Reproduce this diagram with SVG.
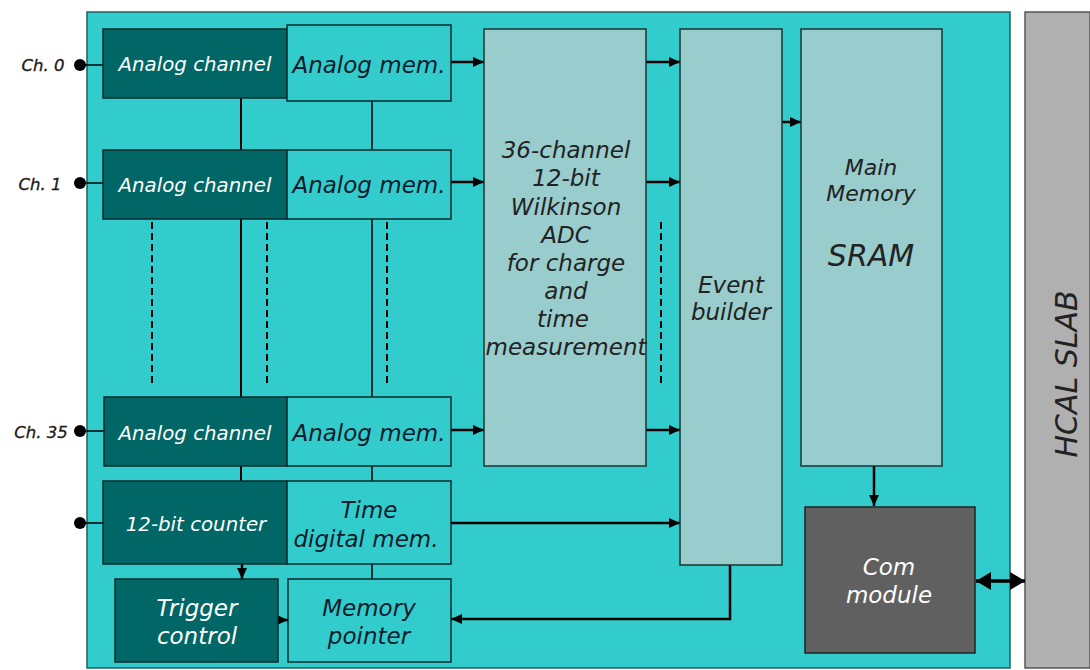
<svg xmlns="http://www.w3.org/2000/svg" width="1090" height="670" viewBox="0 0 1090 670">
<defs>
<marker id="ah" markerUnits="userSpaceOnUse" markerWidth="12" markerHeight="12" refX="11" refY="6" orient="auto-start-reverse"><path d="M0,1 L11,6 L0,11 z" fill="#000"/></marker>
<marker id="ahb" markerUnits="userSpaceOnUse" markerWidth="16" markerHeight="18" refX="15" refY="9" orient="auto-start-reverse"><path d="M0,0 L15,9 L0,18 z" fill="#000"/></marker>
<style>
text{font-family:"DejaVu Sans","Verdana",sans-serif;font-style:italic;text-anchor:middle;dominant-baseline:central}
.dk{fill:#006666;stroke:#0d2a2a;stroke-width:1.5}
.lt{fill:#33CCCC;stroke:#0d2a2a;stroke-width:1.5}
.gr{fill:#99CCCC;stroke:#1a3333;stroke-width:1.5}
.wt{fill:#ffffff;font-size:19.8px}
.wb{fill:#ffffff;font-size:23px}
.mt{fill:#0c1c2c;font-size:23px}
.at{fill:#222222;font-size:23px}
.ch{fill:#1a1a1a;font-size:16.5px;stroke:#1a1a1a;stroke-width:0.3}
.ln{stroke:#000;stroke-width:2;fill:none}
.th{stroke:#000;stroke-width:1.5;fill:none}
.ar{stroke:#000;stroke-width:2.5;fill:none;marker-end:url(#ah)}
.ds{stroke:#000;stroke-width:2;fill:none;stroke-dasharray:7 4}
</style>
</defs>
<rect x="0" y="0" width="1090" height="670" fill="#ffffff"/>
<rect id="board" x="87" y="12" width="923" height="656" fill="#33CCCC" stroke="#1f5f5f" stroke-width="1.5"/>
<g id="hcal-slab">
<rect x="1025" y="12" width="65" height="656" fill="#B0B0B0" stroke="#555" stroke-width="1.5"/>
<text x="1066" y="374" transform="rotate(-90 1066 374)" style="font-size:30px;fill:#222">HCAL SLAB</text>
</g>
<g id="connectors">
<line class="th" x1="80" y1="65" x2="103" y2="65"/>
<line class="th" x1="80" y1="183" x2="103" y2="183"/>
<line class="th" x1="80" y1="431" x2="104" y2="431"/>
<line class="th" x1="80" y1="523" x2="103" y2="523"/>
<line class="ln" x1="241" y1="98" x2="241" y2="150"/>
<line class="th" x1="372" y1="101" x2="372" y2="150"/>
<line class="ln" x1="241" y1="219" x2="241" y2="397"/>
<line class="th" x1="372" y1="219" x2="372" y2="397"/>
<line class="ln" x1="241" y1="466" x2="241" y2="481"/>
<line class="th" x1="372" y1="466" x2="372" y2="481"/>
<line class="th" x1="372" y1="564" x2="372" y2="579"/>
<line class="ds" x1="152" y1="222" x2="152" y2="386"/>
<line class="ds" x1="267" y1="222" x2="267" y2="386"/>
<line class="ds" x1="387" y1="222" x2="387" y2="386"/>
<line class="ds" x1="661" y1="222" x2="661" y2="386"/>
<line class="ar" x1="451" y1="62" x2="484" y2="62"/>
<line class="ar" x1="451" y1="182" x2="484" y2="182"/>
<line class="ar" x1="451" y1="430" x2="484" y2="430"/>
<line class="ar" x1="644" y1="62" x2="680" y2="62"/>
<line class="ar" x1="644" y1="182" x2="680" y2="182"/>
<line class="ar" x1="644" y1="430" x2="680" y2="430"/>
<line class="ar" x1="782" y1="122" x2="801" y2="122"/>
<line class="ar" x1="451" y1="523" x2="680" y2="523"/>
<line class="ar" x1="874" y1="466" x2="874" y2="506"/>
<line class="ar" x1="242" y1="564" x2="242" y2="579"/>
<line class="ar" x1="269" y1="620" x2="288" y2="620"/>
<polyline class="ar" points="730,565 730,619 451,619"/>
<line x1="976" y1="581" x2="1025" y2="581" stroke="#000" stroke-width="3.5" marker-start="url(#ahb)" marker-end="url(#ahb)"/>
<circle cx="80" cy="65" r="6" fill="#000"/>
<circle cx="80" cy="183" r="6" fill="#000"/>
<circle cx="80" cy="431" r="6" fill="#000"/>
<circle cx="80" cy="523" r="6" fill="#000"/>
</g>
<text class="ch" x="43" y="65">Ch. 0</text>
<text class="ch" x="40" y="184">Ch. 1</text>
<text class="ch" x="41" y="432">Ch. 35</text>
<g id="analog-channel-0"><rect class="dk" x="103" y="29" width="184" height="69"/><text class="wt" x="195" y="64">Analog channel</text></g>
<g id="analog-mem-0"><rect class="lt" x="287" y="25" width="164" height="76"/><text class="mt" x="369" y="65">Analog mem.</text></g>
<g id="analog-channel-1"><rect class="dk" x="103" y="150" width="184" height="69"/><text class="wt" x="195" y="185">Analog channel</text></g>
<g id="analog-mem-1"><rect class="lt" x="287" y="150" width="164" height="69"/><text class="mt" x="369" y="185">Analog mem.</text></g>
<g id="analog-channel-35"><rect class="dk" x="104" y="397" width="183" height="69"/><text class="wt" x="195" y="433">Analog channel</text></g>
<g id="analog-mem-35"><rect class="lt" x="287" y="397" width="164" height="69"/><text class="mt" x="369" y="433">Analog mem.</text></g>
<g id="counter"><rect class="dk" x="103" y="481" width="184" height="83"/><text class="wt" x="196" y="524">12-bit counter</text></g>
<g id="time-digital-mem"><rect class="lt" x="287" y="481" width="164" height="83"/><text class="mt" x="369" y="510">Time</text><text class="mt" x="366" y="539">digital mem.</text></g>
<g id="trigger-control"><rect class="dk" x="115" y="579" width="163" height="83"/><text class="wb" x="197" y="608">Trigger</text><text class="wb" x="197" y="636">control</text></g>
<g id="memory-pointer"><rect class="lt" x="288" y="579" width="163" height="83"/><text class="mt" x="369" y="608">Memory</text><text class="mt" x="369" y="636">pointer</text></g>
<g id="adc"><rect class="gr" x="484" y="29" width="162" height="437"/>
<text class="at" x="566" y="150">36-channel</text>
<text class="at" x="566" y="178">12-bit</text>
<text class="at" x="566" y="207">Wilkinson</text>
<text class="at" x="566" y="235">ADC</text>
<text class="at" x="566" y="263">for charge</text>
<text class="at" x="566" y="291">and</text>
<text class="at" x="563" y="319">time</text>
<text class="at" x="566" y="347">measurement</text></g>
<g id="event-builder"><rect class="gr" x="680" y="29" width="102" height="536"/>
<text class="at" x="731" y="285">Event</text><text class="at" x="731" y="312">builder</text></g>
<g id="main-memory"><rect class="gr" x="801" y="29" width="141" height="437"/>
<text class="at" x="871" y="167" style="font-size:22px">Main</text>
<text class="at" x="871" y="193" style="font-size:22px">Memory</text>
<text class="at" x="871" y="255" style="font-size:30px">SRAM</text></g>
<g id="com-module"><rect x="805" y="507" width="170" height="146" fill="#606060" stroke="#222" stroke-width="1.5"/>
<text class="wb" x="889" y="567">Com</text><text class="wb" x="889" y="595">module</text></g>
</svg>
